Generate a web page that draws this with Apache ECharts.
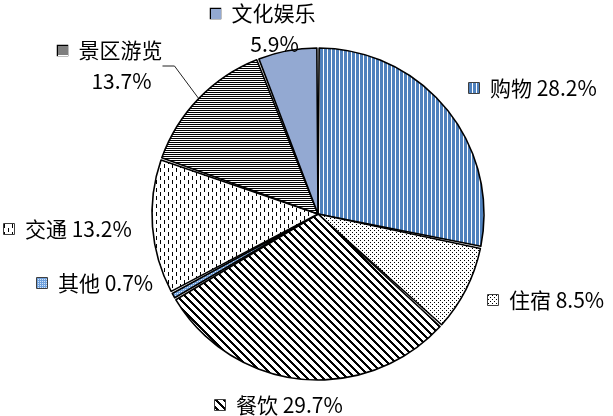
<!DOCTYPE html>
<html><head><meta charset="utf-8">
<script src="https://cdn.jsdelivr.net/npm/echarts@6/dist/echarts.min.js"></script>
<style>html,body{margin:0;padding:0;background:#fff}#c{width:613px;height:416px}</style>
</head><body><div id="c"></div>
<script>
const categories = ['购物', '住宿', '餐饮', '其他', '交通', '景区游览', '文化娱乐'];
const values = [28.2, 8.5, 29.7, 0.7, 13.2, 13.7, 5.9];

const BLUE = '#4f81bd';
function tile(w, h, draw) {
  const c = document.createElement('canvas'); c.width = w; c.height = h;
  const g = c.getContext('2d'); g.fillStyle = '#fff'; g.fillRect(0, 0, w, h); draw(g); return c;
}
const patterns = [
  tile(4, 4, g => { g.fillStyle = BLUE; g.fillRect(0, 0, 3, 4); }),
  tile(4, 4, g => { g.fillStyle = '#000'; g.fillRect(0, 0, 1, 1); g.fillRect(2, 2, 1, 1); }),
  tile(8, 8, g => { g.fillStyle = '#000'; for (let y = 0; y < 8; y++) for (let x = 0; x < 8; x++) { if (((x - y) % 8 + 8) % 8 < 3) g.fillRect(x, y, 1, 1); } }),
  tile(2, 2, g => { g.fillStyle = '#6fa0dc'; g.fillRect(0, 0, 2, 2); g.fillStyle = '#d6e6f7'; g.fillRect(1, 1, 1, 1); }),
  tile(8, 8, g => { g.fillStyle = '#000'; g.fillRect(0, 0, 1, 4); g.fillRect(4, 4, 1, 4); }),
  tile(2, 2, g => { g.fillStyle = '#000'; g.fillRect(0, 0, 2, 1); }),
  tile(2, 2, g => { g.fillStyle = '#93a9d2'; g.fillRect(0, 0, 2, 2); })
];
function iconOf(p) {
  const c = document.createElement('canvas'); c.width = 10; c.height = 10;
  const g = c.getContext('2d'); g.fillStyle = g.createPattern(p, 'repeat'); g.fillRect(0, 0, 10, 10); return c;
}
// label anchor positions [x, y, align]
const labelPos = [
  [469, 88, 'left'], [488, 300, 'left'], [215, 405, 'left'], [37, 283, 'left'],
  [4, 229, 'left'], [110, 66, 'center'], [263, 29, 'center']
];
const twoLine = [false, false, false, false, false, true, true];

const FONT = { fontFamily: 'Noto Sans CJK SC', fontSize: 21, color: '#000' };
const rich = {};
['left', 'center'].forEach(a => {
  rich['g_' + a] = { width: 11, align: a };
  rich['sp_' + a] = { width: 23, align: a };
  rich['t_' + a] = Object.assign({ align: a, lineHeight: 31 }, FONT);
  patterns.forEach((p, i) => {
    rich['i' + i + '_' + a] = { width: 10, height: 10, align: a, backgroundColor: { image: iconOf(p) }, borderColor: '#000', borderWidth: 1.5 };
  });
});

const chart = echarts.init(document.getElementById('c'));
chart.setOption({
  animation: false,
  series: [{
    type: 'pie',
    center: [318, 214],
    radius: 166,
    startAngle: 90,
    clockwise: true,
    padAngle: 0.8,
    emphasis: { disabled: true },
    itemStyle: { borderColor: '#000', borderWidth: 1.6 },
    label: Object.assign({
      show: true,
      position: 'outside',
      overflow: 'none',
      alignTo: 'none',
      lineHeight: 31,
      rich: rich,
      formatter: function (p) {
        const i = p.dataIndex;
        const a = labelPos[i][2];
        const v = p.value.toFixed(1) + '%';
        const ic = '{i' + i + '_' + a + '| }{g_' + a + '| }';
        if (twoLine[i]) return ic + '{t_' + a + '|' + p.name + '}\n{sp_' + a + '| }{t_' + a + '|' + v + '}';
        return ic + '{t_' + a + '|' + p.name + ' ' + v + '}';
      }
    }, FONT),
    labelLine: { show: false },
    labelLayout: function (p) {
      const q = labelPos[p.dataIndex];
      return { x: q[0], y: q[1], align: q[2], verticalAlign: 'middle' };
    },
    data: categories.map((c, i) => ({
      name: c, value: values[i],
      itemStyle: { color: { image: patterns[i], repeat: 'repeat' } },
      labelLine: i === 5 ? { show: true, length2: 12, lineStyle: { color: '#222', width: 1 } } : { show: false }
    }))
  }]
});
</script></body></html>
